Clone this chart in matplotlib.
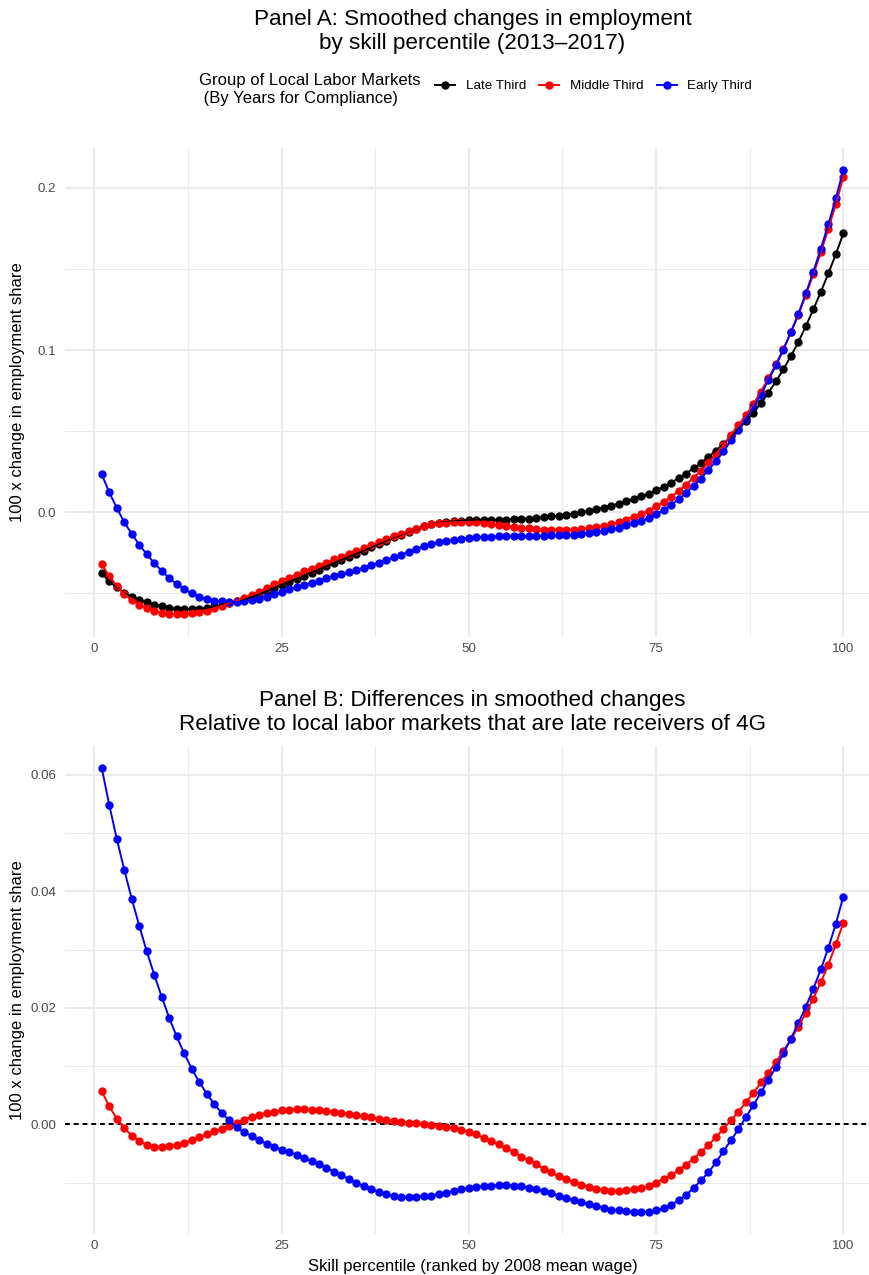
import numpy as np
import matplotlib
matplotlib.use("Agg")
import matplotlib.pyplot as plt
from matplotlib.lines import Line2D

# ---------------- data ----------------
percentile = np.arange(1, 101)

# Panel A: late third (black)
late = [
    -0.0377, -0.0426, -0.0463, -0.0498, -0.0520, -0.0541, -0.0555, -0.0570, -0.0580, -0.0590,
    -0.0594, -0.0596, -0.0596, -0.0594, -0.0590, -0.0580, -0.0570, -0.0559, -0.0549, -0.0535,
    -0.0523, -0.0506, -0.0488, -0.0467, -0.0447, -0.0429, -0.0410, -0.0391, -0.0372, -0.0353,
    -0.0333, -0.0313, -0.0294, -0.0275, -0.0256, -0.0237, -0.0216, -0.0195, -0.0175, -0.0154,
    -0.0138, -0.0119, -0.0103, -0.0086, -0.0074, -0.0066, -0.0060, -0.0056, -0.0051, -0.0047,
    -0.0045, -0.0045, -0.0045, -0.0045, -0.0045, -0.0043, -0.0041, -0.0039, -0.0035, -0.0031,
    -0.0025, -0.0021, -0.0014, -0.0008, 0.0000, 0.0008, 0.0019, 0.0029, 0.0041, 0.0053,
    0.0068, 0.0084, 0.0098, 0.0115, 0.0136, 0.0157, 0.0182, 0.0210, 0.0238, 0.0271,
    0.0304, 0.0343, 0.0380, 0.0421, 0.0470, 0.0515, 0.0561, 0.0614, 0.0671, 0.0737,
    0.0807, 0.0881, 0.0963, 0.1049, 0.1148, 0.1251, 0.1359, 0.1472, 0.1591, 0.1719,
]

# Panel B: middle third minus late third (red)
diff_middle = [
    0.0057, 0.0031, 0.0010, -0.0006, -0.0019, -0.0028, -0.0035, -0.0038, -0.0038, -0.0037,
    -0.0035, -0.0032, -0.0027, -0.0022, -0.0017, -0.0012, -0.0008, -0.0002, 0.0002, 0.0008,
    0.0013, 0.0017, 0.0020, 0.0022, 0.0024, 0.0025, 0.0026, 0.0026, 0.0025, 0.0024,
    0.0023, 0.0022, 0.0020, 0.0018, 0.0016, 0.0014, 0.0012, 0.0010, 0.0008, 0.0006,
    0.0005, 0.0003, 0.0002, 0.0001, -0.0001, -0.0002, -0.0004, -0.0006, -0.0009, -0.0013,
    -0.0017, -0.0023, -0.0028, -0.0034, -0.0040, -0.0047, -0.0055, -0.0061, -0.0068, -0.0076,
    -0.0082, -0.0089, -0.0094, -0.0099, -0.0104, -0.0107, -0.0110, -0.0113, -0.0114, -0.0114,
    -0.0113, -0.0111, -0.0109, -0.0105, -0.0100, -0.0093, -0.0087, -0.0078, -0.0069, -0.0059,
    -0.0047, -0.0035, -0.0022, -0.0007, 0.0007, 0.0022, 0.0038, 0.0054, 0.0072, 0.0089,
    0.0107, 0.0126, 0.0146, 0.0168, 0.0191, 0.0216, 0.0244, 0.0274, 0.0309, 0.0346,
]

# Panel B: early third minus late third (blue)
diff_early = [
    0.0611, 0.0548, 0.0490, 0.0437, 0.0387, 0.0341, 0.0297, 0.0257, 0.0219, 0.0183,
    0.0151, 0.0122, 0.0096, 0.0073, 0.0053, 0.0035, 0.0020, 0.0007, -0.0005, -0.0013,
    -0.0020, -0.0027, -0.0033, -0.0038, -0.0043, -0.0047, -0.0052, -0.0057, -0.0063, -0.0068,
    -0.0074, -0.0081, -0.0087, -0.0094, -0.0100, -0.0106, -0.0111, -0.0116, -0.0120, -0.0123,
    -0.0124, -0.0125, -0.0124, -0.0123, -0.0122, -0.0119, -0.0117, -0.0114, -0.0111, -0.0109,
    -0.0107, -0.0106, -0.0105, -0.0104, -0.0104, -0.0105, -0.0106, -0.0109, -0.0111, -0.0114,
    -0.0118, -0.0122, -0.0126, -0.0130, -0.0133, -0.0136, -0.0139, -0.0143, -0.0146, -0.0147,
    -0.0149, -0.0150, -0.0150, -0.0150, -0.0147, -0.0144, -0.0138, -0.0130, -0.0121, -0.0109,
    -0.0096, -0.0082, -0.0065, -0.0046, -0.0027, -0.0008, 0.0013, 0.0033, 0.0055, 0.0077,
    0.0098, 0.0122, 0.0147, 0.0174, 0.0202, 0.0233, 0.0266, 0.0303, 0.0344, 0.0391,
]

group_labels = ["Late Third", "Middle Third", "Early Third"]
group_colors = ["#000000", "#FF0000", "#0000FF"]

late_a = np.array(late)
middle_a = late_a + np.array(diff_middle)
early_a = late_a + np.array(diff_early)

# ---------------- figure ----------------
plt.rcParams["font.family"] = ["Liberation Sans", "DejaVu Sans"]
W, H = 869, 1275
fig = plt.figure(figsize=(W / 100, H / 100), dpi=100)


def rect(l, r, t, b):
    return [l / W, 1 - b / H, (r - l) / W, (b - t) / H]


axA = fig.add_axes(rect(64.7, 880.4, 147.8, 636.5))
axB = fig.add_axes(rect(64.7, 880.4, 746.1, 1234.1))


def style(ax, ymaj, ymin, fmt, data):
    lo = min(np.min(d) for d in data)
    hi = max(np.max(d) for d in data)
    pad = 0.05 * (hi - lo)
    ax.set_ylim(lo - pad, hi + pad)
    ax.set_xlim(1 - 0.05 * 99, 100 + 0.05 * 99)
    for s in ax.spines.values():
        s.set_visible(False)
    ax.set_facecolor("none")
    ax.set_xticks([0, 25, 50, 75, 100])
    ax.set_xticks([12.5, 37.5, 62.5, 87.5], minor=True)
    ax.set_yticks(ymaj)
    ax.set_yticklabels([fmt.format(v) for v in ymaj])
    ax.set_yticks(ymin, minor=True)
    ax.tick_params(which="both", length=0, colors="#4D4D4D", labelsize=9.6)
    ax.tick_params(axis="x", pad=4.5)
    ax.tick_params(axis="y", pad=6)
    ax.grid(which="major", color="#EBEBEB", lw=1.5)
    ax.grid(which="minor", color="#EBEBEB", lw=0.75)
    ax.set_axisbelow(True)


style(axA, [0.0, 0.1, 0.2], [-0.05, 0.05, 0.15], "{:.1f}", [late_a, middle_a, early_a])
style(axB, [0.0, 0.02, 0.04, 0.06], [-0.01, 0.01, 0.03, 0.05], "{:.2f}",
      [np.array(diff_middle), np.array(diff_early)])

ms = 5
lw = 1.4
seriesA = [late_a, middle_a, early_a]
for y, c in zip(seriesA, group_colors):
    axA.plot(percentile, y, "o", ms=ms, color=c, mec=c, zorder=2)
for y, c in zip(seriesA, group_colors):
    axA.plot(percentile, y, "-", lw=lw, color=c, zorder=3)

axB.axhline(0, color="black", lw=1.4, ls=(0, (2.5, 2)), zorder=1.5)
seriesB = [np.array(diff_middle), np.array(diff_early)]
colorsB = group_colors[1:]
for y, c in zip(seriesB, colorsB):
    axB.plot(percentile, y, "o", ms=ms, color=c, mec=c, zorder=2)
for y, c in zip(seriesB, colorsB):
    axB.plot(percentile, y, "-", lw=lw, color=c, zorder=3)

# ---------------- text ----------------
cx = (64.7 + 880.4) / 2 / W
tfs = 16.2
fig.text(cx, 1 - 20 / H, "Panel A: Smoothed changes in employment", ha="center", va="center", fontsize=tfs)
fig.text(cx, 1 - 43 / H, "by skill percentile (2013–2017)", ha="center", va="center", fontsize=tfs)
fig.text(cx, 1 - 700 / H, "Panel B: Differences in smoothed changes", ha="center", va="center", fontsize=tfs)
fig.text(cx, 1 - 724 / H, "Relative to local labor markets that are late receivers of 4G", ha="center", va="center", fontsize=tfs)

fig.text(18 / W, 1 - 392 / H, "100 x change in employment share", rotation=90, ha="center", va="center", fontsize=12)
fig.text(18 / W, 1 - 990 / H, "100 x change in employment share", rotation=90, ha="center", va="center", fontsize=12)
fig.text(cx, 1 - 1266 / H, "Skill percentile (ranked by 2008 mean wage)", ha="center", va="center", fontsize=12)

fig.text(199 / W, 1 - 81 / H, "Group of Local Labor Markets", ha="left", va="center", fontsize=12)
fig.text(199 / W, 1 - 99 / H, " (By Years for Compliance)", ha="left", va="center", fontsize=12)

handles = [Line2D([0], [0], color=c, lw=lw, marker="o", ms=ms) for c in group_colors]
fig.legend(handles, group_labels, loc="center left", bbox_to_anchor=(435 / W, 1 - 86 / H),
           ncol=3, frameon=False, fontsize=9.6, handlelength=1.5, handletextpad=0.8,
           columnspacing=1.0, borderpad=0, borderaxespad=0)

fig.savefig("out.png", dpi=100)
